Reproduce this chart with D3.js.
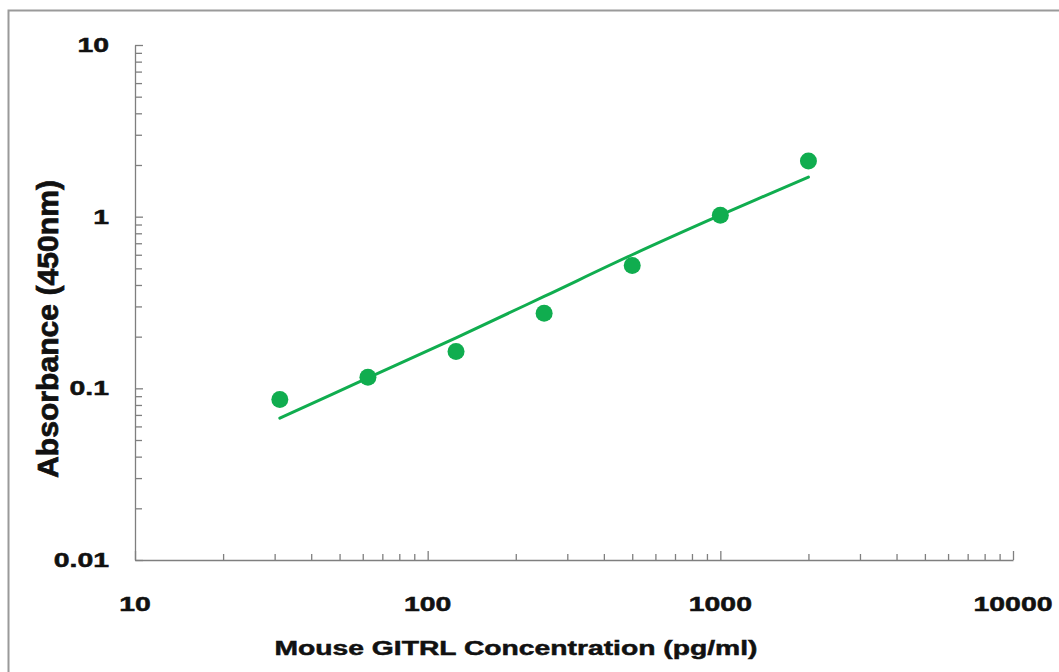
<!DOCTYPE html>
<html>
<head>
<meta charset="utf-8">
<script src="https://cdn.jsdelivr.net/npm/d3@7"></script>
<style>
  html, body { margin: 0; padding: 0; background: #fff; }
  svg { display: block; }
  text { font-family: "Liberation Sans", Arial, sans-serif; font-weight: bold; fill: #111; stroke: #111; stroke-width: 0.5px; }
</style>
</head>
<body>
<svg id="chart" width="1059" height="672"></svg>
<script>
// ---- data ----
const concentrations = [31.25, 62.5, 125, 250, 500, 1000, 2000];
const absorbance     = [0.086, 0.116, 0.164, 0.274, 0.52, 1.02, 2.11];
const fitX           = [31.25, 62.5, 125, 250, 500, 1000, 2000];
const fitY           = [0.067, 0.115, 0.197, 0.343, 0.600, 1.02, 1.70];
const xTickLabels    = ["10", "100", "1000", "10000"];
const yTickLabels    = ["0.01", "0.1", "1", "10"];
const xTitle = "Mouse GITRL Concentration (pg/ml)";
const yTitle = "Absorbance (450nm)";

const green = "#10ad4f";
const axisColor = "#7f7f7f";

const svg = d3.select("#chart");

// outer frame
svg.append("rect")
  .attr("x", 8.5).attr("y", 10.5)
  .attr("width", 1070).attr("height", 700)
  .attr("fill", "none").attr("stroke", "#9a9a9a").attr("stroke-width", 2);

const x = d3.scaleLog().domain([10, 10000]).range([135, 1013]);
const y = d3.scaleLog().domain([0.01, 10]).range([560, 45]);

const xMajor = xTickLabels.map(Number);
const yMajor = yTickLabels.map(Number);
function minors(majors) {
  const out = [];
  for (let i = 0; i < majors.length - 1; i++)
    for (let k = 2; k <= 9; k++) out.push(majors[i] * k);
  return out;
}

function styleAxis(g) {
  g.select(".domain").attr("stroke", axisColor).attr("stroke-width", 1.3);
  g.selectAll(".tick line").attr("stroke", axisColor).attr("stroke-width", 1.3);
  g.selectAll(".tick text").remove();
}

// y axis (ticks pointing inward)
svg.append("g").attr("transform", "translate(135,0)")
  .call(d3.axisRight(y).tickValues(yMajor).tickSize(8).tickSizeOuter(0).tickFormat(""))
  .call(styleAxis);
svg.append("g").attr("transform", "translate(135,0)")
  .call(d3.axisRight(y).tickValues(minors(yMajor)).tickSize(7).tickSizeOuter(0).tickFormat(""))
  .call(styleAxis).call(g => g.select(".domain").remove());

// x axis (ticks pointing inward)
svg.append("g").attr("transform", "translate(0,560)")
  .call(d3.axisTop(x).tickValues(xMajor).tickSize(9).tickSizeOuter(0).tickFormat(""))
  .call(styleAxis);
svg.append("g").attr("transform", "translate(0,560)")
  .call(d3.axisTop(x).tickValues(minors(xMajor)).tickSize(6).tickSizeOuter(0).tickFormat(""))
  .call(styleAxis).call(g => g.select(".domain").remove());

// tick labels (stretched horizontally like the reference)
const stretch = 1.42;
yTickLabels.forEach(t => {
  svg.append("text")
    .attr("transform", `translate(109,${y(+t) + 7}) scale(${stretch},1)`)
    .attr("text-anchor", "end")
    .attr("font-size", 20)
    .text(t);
});
xTickLabels.forEach(t => {
  svg.append("text")
    .attr("transform", `translate(${x(+t)},611) scale(${stretch},1)`)
    .attr("text-anchor", "middle")
    .attr("font-size", 20)
    .text(t);
});

// axis titles
svg.append("text")
  .attr("transform", `translate(516,655) scale(1.45,1)`)
  .attr("text-anchor", "middle")
  .attr("font-size", 21)
  .attr("textLength", 483 / 1.45)
  .attr("lengthAdjust", "spacingAndGlyphs")
  .text(xTitle);

svg.append("text")
  .attr("transform", `translate(58,329) scale(1.5,1) rotate(-90)`)
  .attr("text-anchor", "middle")
  .attr("font-size", 20)
  .attr("textLength", 298)
  .attr("lengthAdjust", "spacingAndGlyphs")
  .text(yTitle);

// fitted curve
const fit = fitX.map((v, i) => [v, fitY[i]]);
svg.append("path")
  .datum(fit)
  .attr("fill", "none")
  .attr("stroke", green)
  .attr("stroke-width", 3)
  .attr("stroke-linecap", "round")
  .attr("d", d3.line().x(d => x(d[0])).y(d => y(d[1])).curve(d3.curveCatmullRom));

// data points
svg.append("g").selectAll("circle")
  .data(concentrations.map((c, i) => [c, absorbance[i]]))
  .join("circle")
  .attr("cx", d => x(d[0]))
  .attr("cy", d => y(d[1]))
  .attr("r", 8.5)
  .attr("fill", green);
</script>
</body>
</html>
